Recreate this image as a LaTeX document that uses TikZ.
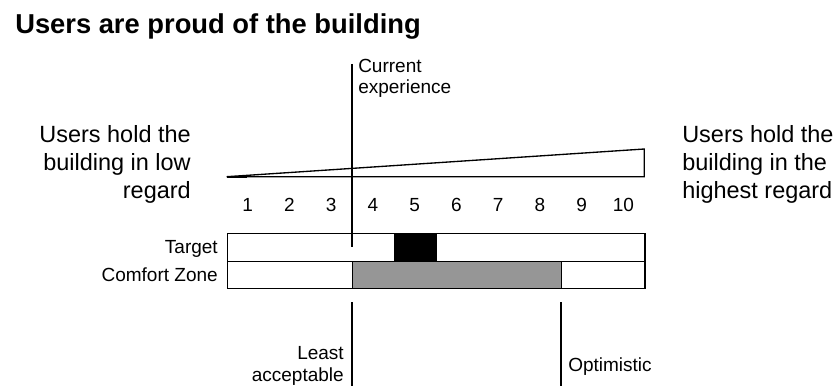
\documentclass[tikz,border=0pt]{standalone}
\usepackage{fontspec}
\setmainfont{Liberation Sans}
\begin{document}
\begin{tikzpicture}[x=0.75pt,y=-0.75pt,
  lbl/.style={inner sep=0pt,font=\fontsize{14.25}{16}\selectfont},
  side/.style={inner sep=0pt,font=\fontsize{17.6}{21}\selectfont},
  bar/.style={draw=black,line width=1pt},
  marker/.style={draw=black,line width=1.6pt}]
\useasboundingbox (0,0) rectangle (834,385);
% title
\node[inner sep=0pt,anchor=base west,font=\fontsize{20.5}{24}\selectfont\bfseries] (title) at (15,34) {Users are proud of the building};
% side labels
\node[side,anchor=north east,align=right] (low) at (191,125) {Users hold the\\building in low\\regard};
\node[side,anchor=north west,align=left] (high) at (682,125) {Users hold the\\building in the\\highest regard};
% wedge
\coordinate (wl) at (226.7,176.7);
\coordinate (wr) at (644.3,176.7);
\coordinate (wt) at (644.3,149);
\draw[line width=1pt,line join=miter] (wl) -- (wr) -- (wt) -- cycle;
\draw[line width=1.6pt] (wl) -- ++(20,0);
% numbers
\foreach \i in {1,...,10}{
  \node[lbl,anchor=base] (n\i) at ({226.7+41.76*(\i-0.5)},211) {\i};
}
% bars
\node[bar,minimum width=417.6*0.75pt,minimum height=28*0.75pt,anchor=north west,inner sep=0pt] (target) at (226.7,232.7) {};
\node[bar,minimum width=417.6*0.75pt,minimum height=27.3*0.75pt,anchor=north west,inner sep=0pt] (comfort) at (226.7,260.7) {};
\node[draw=black,fill=black,line width=1pt,minimum width=41.76*0.75pt,minimum height=28*0.75pt,anchor=north west,inner sep=0pt] (tbox) at (393.7,232.7) {};
\node[draw=black,fill={rgb,255:red,150;green,150;blue,150},line width=1pt,minimum width=208.8*0.75pt,minimum height=27.3*0.75pt,anchor=north west,inner sep=0pt] (cbox) at (352,260.7) {};
\node[lbl,anchor=base east] (tl) at (218,253) {Target};
\node[lbl,anchor=base east] (cl) at (218,281.5) {Comfort Zone};
% current experience
\coordinate (cet) at (352,64);
\coordinate (ceb) at (352,247);
\draw[marker] (cet) -- (ceb);
\node[lbl,anchor=north west,align=left] (ce) at (358,59) {Current\\experience};
% lower markers
\coordinate (lat) at (352,302);
\coordinate (lab) at (352,386);
\coordinate (opt) at (561,302);
\coordinate (opb) at (561,386);
\draw[marker] (lat) -- (lab);
\draw[marker] (opt) -- (opb);
\node[lbl,anchor=north east,align=right,font=\fontsize{14.25}{16.5}\selectfont] (la) at (344,346) {Least\\acceptable};
\node[lbl,anchor=base west] (op) at (568,371) {Optimistic};
\end{tikzpicture}
\end{document}
